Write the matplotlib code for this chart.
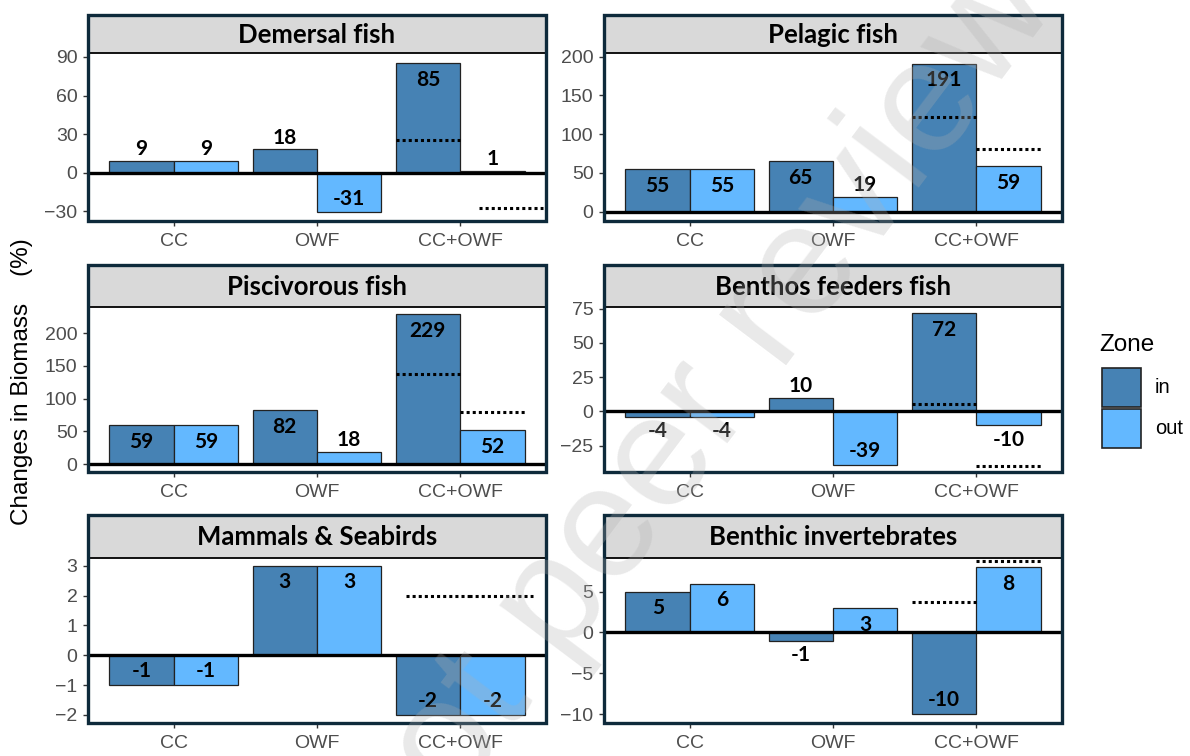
import matplotlib.pyplot as plt
from matplotlib.patches import Rectangle

# biomass change (%) per functional group, scenario and zone
groups = ['Demersal fish', 'Pelagic fish', 'Piscivorous fish',
          'Benthos feeders fish', 'Mammals & Seabirds', 'Benthic invertebrates']
scenarios = ['CC', 'OWF', 'CC+OWF']
zone_in = [[9, 18, 85], [55, 65, 191], [59, 82, 229],
           [-4, 10, 72], [-1, 3, -2], [5, -1, -10]]
zone_out = [[9, -31, 1], [55, 19, 59], [59, 18, 52],
            [-4, -39, -10], [-1, 3, -2], [6, 3, 8]]
# expected combined effect (dotted reference on CC+OWF)
expected_in = [25.6, 122, 137.6, 5.4, 2.0, 3.7]
expected_out = [-27.6, 80.5, 79, -40, 2.0, 8.8]

ylims = [(-37.7, 93.1), (-12, 204.8), (-12.2, 240.2),
         (-44.3, 76.3), (-2.27, 3.26), (-11.1, 9.13)]
yticks = [range(-30, 91, 30), range(0, 201, 50), range(0, 201, 50),
          range(-25, 76, 25), range(-2, 4), range(-10, 6, 5)]
dot_shift = [(0, 0.13), (0, 0), (0, 0), (0, 0), (0.07, 0.06), (0, 0)]

C_IN = '#4682B4'
C_OUT = '#63B8FF'
FRAME = '#0e2a3b'

W, H = 1190, 756
fig = plt.figure(figsize=(W / 100, H / 100), dpi=100)

def fx(px):
    return px / W

def fy(py):
    return 1 - py / H

cols = [88, 604]
rows = [(15, 53, 221), (265, 307, 472), (515, 558, 723)]
pw = 458

for k, name in enumerate(groups):
    x0 = cols[k % 2]
    top, sb, bot = rows[k // 2]

    ax = fig.add_axes([fx(x0), fy(bot), pw / W, (bot - sb) / H])
    st = fig.add_axes([fx(x0), fy(sb), pw / W, (sb - top) / H])

    # strip
    st.set_facecolor('#d9d9d9')
    st.set_xticks([])
    st.set_yticks([])
    for s in ['top', 'left', 'right']:
        st.spines[s].set_visible(False)
    st.spines['bottom'].set_linewidth(1.3)
    st.spines['bottom'].set_color('black')
    st.text(0.5, 0.48, name, ha='center', va='center', fontsize=18.5,
            fontweight='bold', family='Lato', transform=st.transAxes)

    xs = range(len(scenarios))
    lo, hi = ylims[k]
    span = hi - lo
    for i in xs:
        for v, dx, c in [(zone_in[k][i], -0.225, C_IN), (zone_out[k][i], 0.225, C_OUT)]:
            ax.bar(i + dx, v, width=0.45, color=c, edgecolor='#222222',
                   linewidth=0.9, zorder=2)
            inside = abs(v) / span > 0.143
            if v >= 0:
                off = -12 if inside else 8.5
            else:
                off = 10 if inside else -10.5
            ax.annotate(str(v), (i + dx, v), xytext=(0, off),
                        textcoords='offset points', ha='center', va='center',
                        fontsize=15, fontweight='bold', family='Lato', zorder=4)

    # dotted reference for the combined scenario
    si, so = dot_shift[k]
    ax.hlines(expected_in[k], 2 - 0.45 + si, 2 + si, colors='black',
              linestyles=(0, (1, 1)), linewidth=2.2, zorder=3)
    ax.hlines(expected_out[k], 2 + so, 2 + 0.45 + so, colors='black',
              linestyles=(0, (1, 1)), linewidth=2.2, zorder=3)

    ax.axhline(0, color='black', linewidth=2.4, zorder=3)

    ax.set_xlim(-0.6, 2.6)
    ax.set_ylim(lo, hi)
    ax.set_xticks(list(xs))
    ax.set_xticklabels(scenarios)
    ax.set_yticks(list(yticks[k]))
    for s in ax.spines.values():
        s.set_visible(False)
    ax.tick_params(length=3.5, width=1, color='#333333', labelcolor='#4d4d4d',
                   labelsize=14, pad=4)
    ax.tick_params(axis='x', pad=5)
    for lab in ax.get_xticklabels() + ax.get_yticklabels():
        lab.set_family('Liberation Sans')

    # thick panel frame around strip and plot
    fig.add_artist(Rectangle((fx(x0), fy(bot)), pw / W, (bot - top) / H,
                             transform=fig.transFigure, fill=False,
                             edgecolor=FRAME, linewidth=2.4, zorder=10))

fig.text(fx(22), fy(382), 'Changes in Biomass    (%)', rotation=90,
         ha='center', va='center', fontsize=17.5, family='Liberation Sans')

# legend
fig.text(fx(1099), fy(345), 'Zone', ha='left', va='center', fontsize=17.5,
         family='Liberation Sans')
for lab, c, ytop in [('in', C_IN, 368), ('out', C_OUT, 409)]:
    fig.add_artist(Rectangle((fx(1102), fy(ytop + 39)), 39 / W, 39 / H,
                             transform=fig.transFigure, facecolor=c,
                             edgecolor='#222222', linewidth=1.2))
    fig.text(fx(1155), fy(ytop + 19.5), lab, ha='left', va='center',
             fontsize=14.5, family='Liberation Sans')

# preprint watermark
fig.text(fx(568), fy(586), 'Preprint not peer reviewed', rotation=53,
         ha='center', va='center', fontsize=115, family='Liberation Sans',
         color='#b0b0b0', alpha=0.28, zorder=20)

fig.savefig('out.png', dpi=100)
